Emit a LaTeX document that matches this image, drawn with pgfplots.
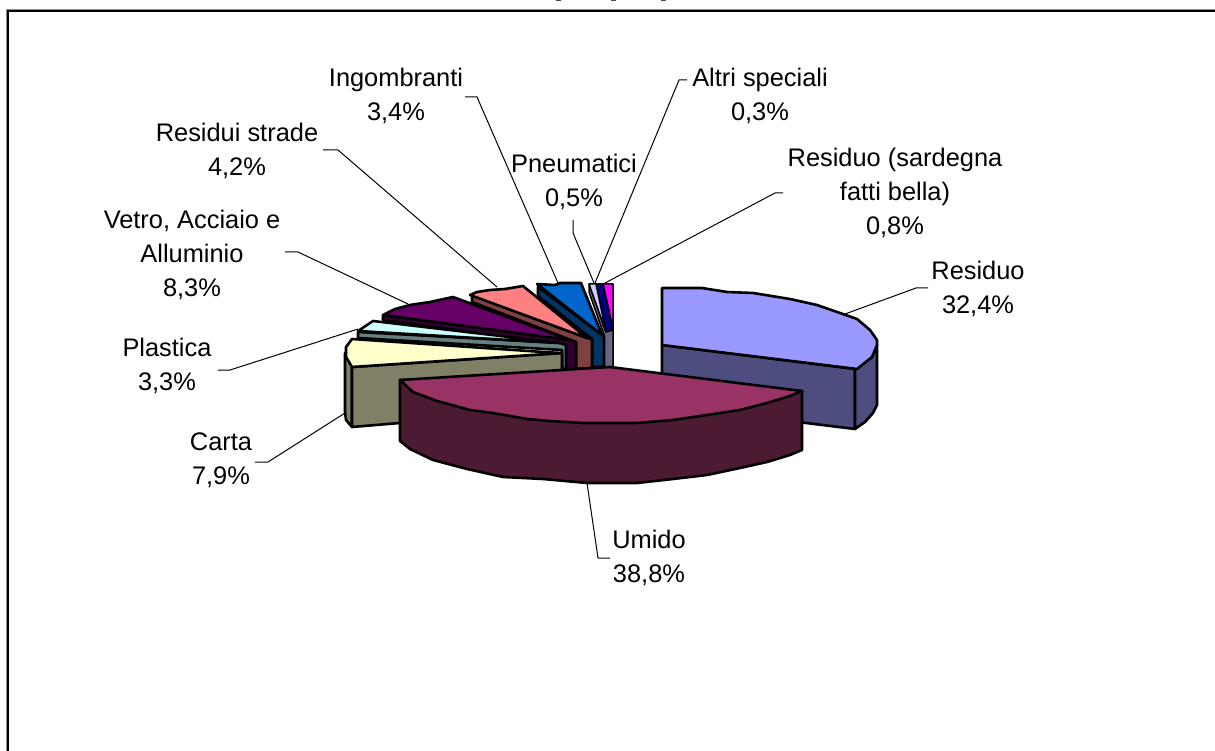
\documentclass[border=0pt]{standalone}
\usepackage{fontspec}
\setmainfont{Liberation Sans}
\usepackage{pgfplots}
\pgfplotsset{compat=1.18}

\definecolor{resTop}{HTML}{9999FF}
\definecolor{resSide}{HTML}{4D4D80}
\definecolor{umiTop}{HTML}{993366}
\definecolor{umiSide}{HTML}{4D1A33}
\definecolor{carTop}{HTML}{FFFFCC}
\definecolor{carSide}{HTML}{808066}
\definecolor{plaTop}{HTML}{CCFFFF}
\definecolor{plaSide}{HTML}{668080}
\definecolor{vetTop}{HTML}{660066}
\definecolor{vetSide}{HTML}{330033}
\definecolor{strTop}{HTML}{FF8080}
\definecolor{strSide}{HTML}{804040}
\definecolor{ingTop}{HTML}{0066CC}
\definecolor{ingSide}{HTML}{003366}
\definecolor{pneTop}{HTML}{CCCCFF}
\definecolor{pneSide}{HTML}{666680}
\definecolor{sarTop}{HTML}{000080}
\definecolor{altTop}{HTML}{FF00FF}

\tikzset{
  pie/.style={draw=black, line width=2.6pt, line join=round, mark=none},
  thin pie/.style={draw=black, line width=1.5pt, line join=round, mark=none},
  lead/.style={draw=black, line width=1pt, mark=none},
  lab/.style={align=center, inner sep=0pt, font=\fontsize{25.4}{34}\selectfont},
}

\begin{document}
\begin{tikzpicture}
\begin{axis}[
    scale only axis,
    width=1215pt, height=751pt,
    xmin=0, xmax=1215, ymin=0, ymax=751,
    y dir=reverse,
    hide axis,
    clip=true,
  ]
  % keeps the page as large as the axis
  \addplot[draw=none, mark=none] coordinates {(0,0) (1215,751)};
  % chart frame, with its grey shadow
  \addplot[draw=black!45, line width=1pt, mark=none] coordinates {(6.8,751) (6.8,9.5) (1215,9.5)};
  \addplot[draw=black, line width=2pt, mark=none] coordinates {(8,751) (8,10.8) (1215,10.8)};
  % what is left of the cut off title
  \addplot[draw=black!70, line width=1.2pt, mark=none] coordinates {(556,0.6) (561,0.6)};
  \addplot[draw=black!70, line width=1.2pt, mark=none] coordinates {(611,0.6) (616,0.6)};
  \addplot[draw=black!70, line width=1.2pt, mark=none] coordinates {(661,0.6) (666,0.6)};

  % leader lines
  \addplot[lead] coordinates {(845,314) (916,288) (928,288)};
  \addplot[lead] coordinates {(587,483) (598,558) (610,558)};
  \addplot[lead] coordinates {(345,413) (268,462) (255,462)};
  \addplot[lead] coordinates {(358,329) (230,370) (218,370)};
  \addplot[lead] coordinates {(408,304) (298,252) (285,252)};
  \addplot[lead] coordinates {(497,287) (338,150) (323,150)};
  \addplot[lead] coordinates {(558,283) (477,97) (465,97)};
  \addplot[lead] coordinates {(594,283) (573,233) (573,220)};
  \addplot[lead] coordinates {(595,283) (679,80) (687,80)};
  \addplot[lead] coordinates {(605,283) (775,193) (783,193)};

  % Altri speciali
  \addplot[thin pie, fill=altTop] coordinates {(603,284) (613,284) (613,330)} --cycle;
  % Residuo (sardegna fatti bella)
  \addplot[thin pie, fill=sarTop] coordinates {(596,284) (603,284) (613,330) (606,332)} --cycle;
  % Pneumatici
  \addplot[thin pie, fill=pneSide] coordinates {(589,284) (589,292) (604,335) (604,367) (613,367) (613,330) (606,332)} --cycle;
  \addplot[thin pie, fill=pneTop] coordinates {(589,284) (596,284) (606,332)} --cycle;
  % Ingombranti
  \addplot[pie, fill=ingSide] coordinates {(538,287) (538,296) (592,339) (592,367) (604,367) (604,335) (602,335)} --cycle;
  \addplot[pie, fill=ingTop] coordinates {(537,284) (555,285) (560,283) (581,283) (602,335)} --cycle;
  % Residui strade
  \addplot[pie, fill=strSide] coordinates {(472,295) (472,302) (576,342) (576,369) (592,368) (592,339) (587,338)} --cycle;
  \addplot[pie, fill=strTop] coordinates {(470,295) (477,292) (490,290) (505,289) (523,286) (587,338)} --cycle;
  % Vetro, Acciaio e Alluminio
  \addplot[pie, fill=vetSide] coordinates {(383,315) (383,320) (566,345) (566,369) (576,369) (576,342) (570,340)} --cycle;
  \addplot[pie, fill=vetTop] coordinates {(383,315) (395,309) (410,305) (430,302) (453,297) (570,340)} --cycle;
  % Plastica
  \addplot[pie, fill=plaSide] coordinates {(358,332) (358,338) (562,350) (562,369) (566,369) (566,345) (560,343)} --cycle;
  \addplot[pie, fill=plaTop] coordinates {(358,331) (373,321) (560,343)} --cycle;
  % Carta
  \addplot[pie, fill=carSide] coordinates {(345,353) (352,367) (352,427) (346,420) (345,412)} --cycle;
  \addplot[pie, fill=carSide] coordinates {(352,367) (562,353) (562,375) (400,423) (352,427)} --cycle;
  \addplot[pie, fill=carTop] coordinates {(352,367) (346,357) (346,347) (352,339) (543,352) (562,353)} --cycle;
  % Residuo
  \addplot[pie, fill=resSide] coordinates {(662,345) (855,369) (855,429) (700,410) (662,400)} --cycle;
  \addplot[pie, fill=resSide] coordinates {(855,369) (872,357) (877,345) (877,405) (873,413) (865,422) (855,429)} --cycle;
  \addplot[pie, fill=resTop] coordinates {(662,288) (702,288) (727,292) (753,293) (790,299) (817,305) (840,313)
    (857,319) (870,330) (877,340) (877,345) (872,357) (857,369) (662,345)} --cycle;
  % Umido
  \addplot[pie, fill=umiSide] coordinates {(400,380) (400,441) (410,449) (433,460) (467,469) (503,477) (543,479)
    (587,483) (637,483) (673,479) (707,475) (740,468) (767,462) (790,455) (802,450) (802,391)} --cycle;
  \addplot[pie, fill=umiTop] coordinates {(610,367) (802,391) (790,396) (767,403) (740,410) (707,415) (673,420)
    (637,423) (583,423) (550,421) (527,419) (493,413) (470,410) (437,401) (413,392) (400,380)} --cycle;

  % labels
  \node[lab] at (axis cs:978,289) {Residuo\\32,4\%};
  \node[lab] at (axis cs:649,558) {Umido\\38,8\%};
  \node[lab] at (axis cs:221,460) {Carta\\7,9\%};
  \node[lab] at (axis cs:167,366) {Plastica\\3,3\%};
  \node[lab] at (axis cs:192,255) {Vetro, Acciaio e\\Alluminio\\8,3\%};
  \node[lab] at (axis cs:237,151) {Residui strade\\4,2\%};
  \node[lab] at (axis cs:396,96) {Ingombranti\\3,4\%};
  \node[lab] at (axis cs:574,182) {Pneumatici\\0,5\%};
  \node[lab] at (axis cs:760,96) {Altri speciali\\0,3\%};
  \node[lab] at (axis cs:895,193) {Residuo (sardegna\\fatti bella)\\0,8\%};
\end{axis}
\end{tikzpicture}
\end{document}
